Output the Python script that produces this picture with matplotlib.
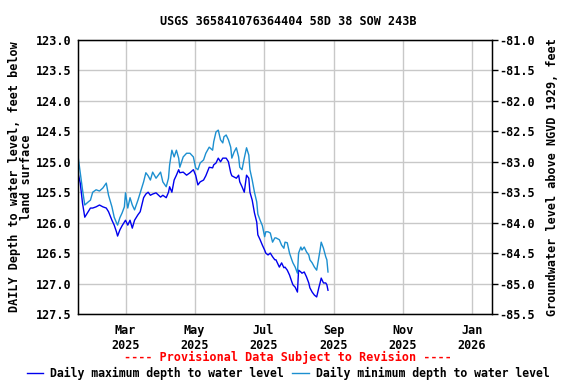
import matplotlib
matplotlib.use("Agg")
import matplotlib.pyplot as plt
import matplotlib.dates as mdates
from matplotlib.lines import Line2D
import pandas as pd

# ──────────────────────────────────────────────────────────────────────────────
# Data
# ──────────────────────────────────────────────────────────────────────────────

dates = [
    "2025-01-18", "2025-01-20", "2025-01-22", "2025-01-24", "2025-01-27", "2025-01-29",
    "2025-01-31", "2025-02-03", "2025-02-06", "2025-02-09", "2025-02-12", "2025-02-14",
    "2025-02-17", "2025-02-19", "2025-02-21", "2025-02-22", "2025-02-24", "2025-02-26",
    "2025-02-28", "2025-03-01", "2025-03-03", "2025-03-05", "2025-03-07", "2025-03-09",
    "2025-03-12", "2025-03-14", "2025-03-17", "2025-03-19", "2025-03-21", "2025-03-23",
    "2025-03-25", "2025-03-28", "2025-04-01", "2025-04-03", "2025-04-06", "2025-04-08",
    "2025-04-09", "2025-04-11", "2025-04-13", "2025-04-15", "2025-04-17", "2025-04-18",
    "2025-04-21", "2025-04-24", "2025-04-27", "2025-04-30", "2025-05-02", "2025-05-04",
    "2025-05-06", "2025-05-09", "2025-05-11", "2025-05-14", "2025-05-17", "2025-05-18",
    "2025-05-20", "2025-05-22", "2025-05-24", "2025-05-26", "2025-05-27", "2025-05-29",
    "2025-05-31", "2025-06-02", "2025-06-03", "2025-06-05", "2025-06-07", "2025-06-09",
    "2025-06-10", "2025-06-12", "2025-06-14", "2025-06-16", "2025-06-18", "2025-06-19",
    "2025-06-21", "2025-06-23", "2025-06-25", "2025-06-26", "2025-06-28", "2025-06-30",
    "2025-07-02", "2025-07-03", "2025-07-05", "2025-07-07", "2025-07-09", "2025-07-11",
    "2025-07-12", "2025-07-15", "2025-07-17", "2025-07-19", "2025-07-20", "2025-07-22",
    "2025-07-24", "2025-07-26", "2025-07-27", "2025-07-29", "2025-07-31", "2025-08-01",
    "2025-08-03", "2025-08-04", "2025-08-06", "2025-08-08", "2025-08-10", "2025-08-11",
    "2025-08-13", "2025-08-15", "2025-08-17", "2025-08-19", "2025-08-20", "2025-08-21",
    "2025-08-23", "2025-08-25", "2025-08-26", "2025-08-27",
]

# daily maximum depth to water level (feet below land surface)
max_depth = [
    125.18, 125.35, 125.68, 125.91, 125.82, 125.76, 125.76, 125.74, 125.71, 125.74,
    125.76, 125.82, 125.96, 126.04, 126.15, 126.22, 126.12, 126.05, 125.99, 125.96,
    126.04, 125.96, 126.09, 125.96, 125.87, 125.82, 125.59, 125.53, 125.50, 125.55,
    125.53, 125.51, 125.58, 125.55, 125.59, 125.50, 125.41, 125.50, 125.30, 125.22,
    125.13, 125.18, 125.17, 125.22, 125.18, 125.13, 125.22, 125.38, 125.33, 125.30,
    125.23, 125.09, 125.10, 125.05, 125.02, 124.94, 125.00, 124.94, 124.94, 124.94,
    125.00, 125.18, 125.23, 125.25, 125.27, 125.22, 125.33, 125.41, 125.50, 125.22,
    125.27, 125.50, 125.63, 125.84, 125.99, 126.20, 126.28, 126.37, 126.45, 126.50,
    126.53, 126.50, 126.56, 126.61, 126.61, 126.73, 126.66, 126.74, 126.73, 126.78,
    126.86, 126.97, 127.02, 127.06, 127.14, 126.78, 126.81, 126.83, 126.81, 126.89,
    126.99, 127.07, 127.14, 127.19, 127.22, 127.06, 126.99, 126.91, 126.99, 126.99,
    127.02, 127.11,
]

# daily minimum depth to water level (feet below land surface)
min_depth = [
    124.90, 125.18, 125.46, 125.71, 125.66, 125.63, 125.50, 125.46, 125.48, 125.43,
    125.35, 125.55, 125.74, 125.91, 126.00, 126.04, 125.92, 125.84, 125.74, 125.51,
    125.76, 125.59, 125.71, 125.79, 125.63, 125.51, 125.33, 125.18, 125.23, 125.30,
    125.17, 125.27, 125.17, 125.33, 125.41, 125.27, 125.05, 124.81, 124.92, 124.81,
    124.94, 125.09, 124.92, 124.86, 124.86, 124.92, 125.10, 125.13, 125.02, 124.97,
    124.86, 124.76, 124.81, 124.67, 124.51, 124.48, 124.64, 124.69, 124.59, 124.56,
    124.64, 124.76, 124.94, 124.84, 124.77, 124.92, 125.09, 125.13, 124.94, 124.77,
    124.89, 125.13, 125.30, 125.50, 125.66, 125.86, 125.96, 126.05, 126.23, 126.15,
    126.15, 126.17, 126.32, 126.25, 126.25, 126.28, 126.37, 126.42, 126.32, 126.33,
    126.50, 126.61, 126.66, 126.73, 126.83, 126.50, 126.40, 126.45, 126.40, 126.48,
    126.53, 126.61, 126.66, 126.73, 126.78, 126.56, 126.45, 126.32, 126.42, 126.56,
    126.61, 126.81,
]

title = "USGS 365841076364404 58D 38 SOW 243B"
datum_offset = 42.0  # NGVD 1929 level = datum_offset - depth

# ──────────────────────────────────────────────────────────────────────────────
# Plot
# ──────────────────────────────────────────────────────────────────────────────

FONT = "DejaVu Sans Mono"
FS = 8.5
dark_blue = "#0000ee"
light_blue = "#1c8fd0"

x = pd.to_datetime(dates)

fig = plt.figure(figsize=(5.76, 3.84), dpi=100)
ax = fig.add_axes([0.1354, 0.1823, 0.7188, 0.7135])

ax.plot(x, max_depth, color=dark_blue, linewidth=1.0)
ax.plot(x, min_depth, color=light_blue, linewidth=1.0)

ax.set_xlim(pd.Timestamp("2025-01-18"), pd.Timestamp("2026-01-19"))
ax.set_ylim(127.5, 123.0)
ax.set_yticks([123.0, 123.5, 124.0, 124.5, 125.0, 125.5, 126.0, 126.5, 127.0, 127.5])
ax.yaxis.set_major_formatter(plt.FormatStrFormatter("%.1f"))

ax.xaxis.set_major_locator(mdates.MonthLocator(bymonth=[1, 3, 5, 7, 9, 11]))
ax.xaxis.set_major_formatter(mdates.DateFormatter("%b\n%Y"))

ax.grid(True, color="#c8c8c8", linewidth=1.0)
ax.set_axisbelow(True)
for sp in ax.spines.values():
    sp.set_linewidth(1.0)
ax.tick_params(axis="y", length=0, labelsize=FS, pad=5)
ax.tick_params(axis="x", length=0, labelsize=FS, pad=7)
for lab in ax.get_xticklabels() + ax.get_yticklabels():
    lab.set_fontfamily(FONT)
    lab.set_fontweight("bold")

ax.set_ylabel("DAILY Depth to water level, feet below\nland surface",
              fontsize=FS, fontfamily=FONT, fontweight="bold", labelpad=2,
              linespacing=0.9)

# right axis: elevation above NGVD 1929
ax2 = ax.twinx()
ax2.set_ylim(datum_offset - 127.5, datum_offset - 123.0)
ax2.set_yticks([-81.0, -81.5, -82.0, -82.5, -83.0, -83.5, -84.0, -84.5, -85.0, -85.5])
ax2.yaxis.set_major_formatter(plt.FormatStrFormatter("%.1f"))
ax2.tick_params(axis="y", length=4, width=1.0, labelsize=FS, pad=1)
for lab in ax2.get_yticklabels():
    lab.set_fontfamily(FONT)
    lab.set_fontweight("bold")
ax2.set_ylabel("Groundwater level above NGVD 1929, feet",
               fontsize=FS, fontfamily=FONT, fontweight="bold", labelpad=8)

fig.text(0.5, 0.945, title, ha="center", va="center",
         fontsize=FS, fontfamily=FONT, fontweight="bold")
fig.text(0.5, 0.068, "---- Provisional Data Subject to Revision ----",
         ha="center", va="center", color="red",
         fontsize=FS, fontfamily=FONT, fontweight="bold")

handles = [
    Line2D([], [], color=dark_blue, linewidth=1.0),
    Line2D([], [], color=light_blue, linewidth=1.0),
]
fig.legend(handles,
           ["Daily maximum depth to water level", "Daily minimum depth to water level"],
           loc="center", bbox_to_anchor=(0.5, 0.028), ncol=2, frameon=False,
           prop={"family": FONT, "weight": "bold", "size": 8.3},
           handlelength=1.45, handletextpad=0.6, columnspacing=0.7,
           borderpad=0, borderaxespad=0)

plt.savefig("out.png", dpi=100)
